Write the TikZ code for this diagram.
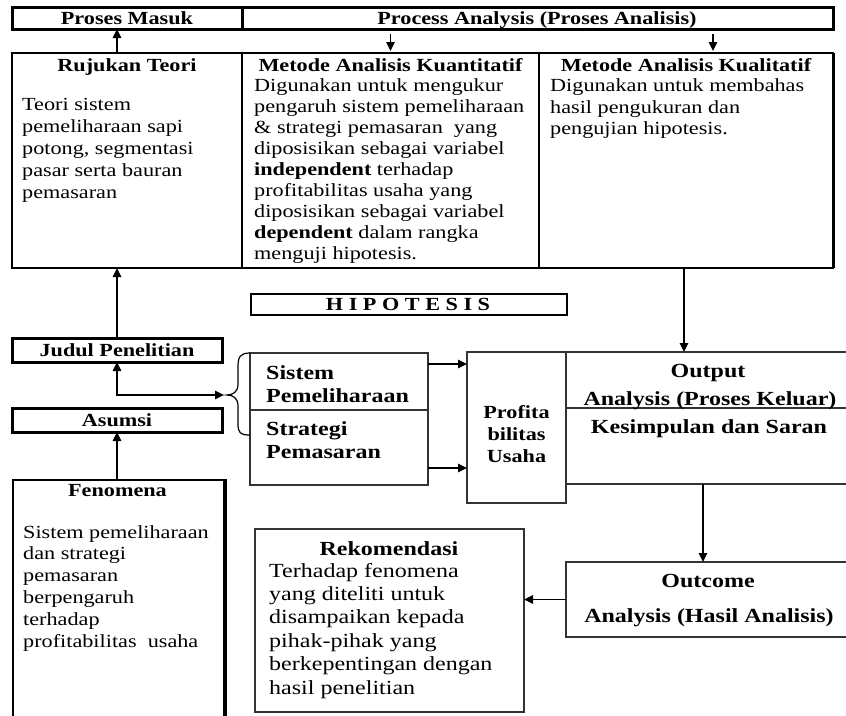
\documentclass[tikz,border=0pt]{standalone}
\usepackage{fontspec}
\setmainfont{Liberation Serif}[FakeStretch=1.2]
\usetikzlibrary{arrows.meta,calc}
\begin{document}
\begin{tikzpicture}[x=1pt,y=-1pt,
  box/.style={draw, inner sep=0pt, outer sep=0pt, anchor=north west, line width=1.7pt},
  thinbox/.style={draw=black!80, inner sep=0pt, outer sep=0pt, anchor=north west, line width=1.3pt},
  thickbox/.style={draw, inner sep=0pt, outer sep=0pt, anchor=north west, line width=3pt},
  txt/.style={inner sep=0pt, align=left, anchor=north west},
  fa/.style={font=\fontsize{18.5}{21.5}\selectfont},
  fb/.style={font=\fontsize{18.5}{21.5}\selectfont\bfseries},
  fc/.style={font=\fontsize{20}{23}\selectfont\bfseries},
  ttl/.style={inner sep=0pt, anchor=base},
  arr/.style={-{Triangle[length=9pt,width=8.5pt]}, line width=1.4pt},
  darr/.style={{Triangle[length=9pt,width=8.5pt]}-{Triangle[length=9pt,width=8.5pt]}, line width=1.4pt},
]
\clip (0,0) rectangle (846,715);
\fill[white] (0,0) rectangle (846,715);

% header bar
\node[thickbox, minimum width=230, minimum height=22] (hdrL) at (12,7) {};
\node[thickbox, minimum width=591, minimum height=22] (hdrR) at (242,7) {};
\node[ttl, fb] (tPM) at (127,24) {Proses Masuk};
\node[ttl, fb] (tPA) at (537,24) {Process Analysis (Proses Analisis)};

% top boxes
\node[box, minimum width=230, minimum height=215] (rujuk) at (12,53) {};
\node[box, minimum width=297, minimum height=215] (kuan) at (242,53) {};
\node[box, minimum width=294, minimum height=215] (kual) at (539,53) {};
\draw[line width=3pt] (kual.north east) -- (kual.south east);

\node[ttl, fb] (tRT) at (127,71.5) {Rujukan Teori};
\node[txt, font=\fontsize{18.5}{22}\selectfont] (bRT) at (22,94.6)
  {\strut Teori sistem\\pemeliharaan sapi\\potong, segmentasi\\pasar serta bauran\\pemasaran};

\node[ttl, fb] (tKN) at (390.5,71.5) {Metode Analisis Kuantitatif};
\node[txt, font=\fontsize{18.5}{21}\selectfont] (bKN) at (254,77)
  {\strut Digunakan untuk mengukur\\pengaruh sistem pemeliharaan\\\& strategi pemasaran\ \ yang\\diposisikan sebagai variabel\\\textbf{independent} terhadap\\profitabilitas usaha yang\\diposisikan sebagai variabel\\\textbf{dependent} dalam rangka\\menguji hipotesis.};

\node[ttl, fb] (tKL) at (686,71.5) {Metode Analisis Kualitatif};
\node[txt, font=\fontsize{18.5}{21.3}\selectfont] (bKL) at (550,76.8)
  {\strut Digunakan untuk membahas\\hasil pengukuran dan\\pengujian hipotesis.};

% header arrows
\draw[arr] (rujuk.north -| 117,0) -- (hdrL.south -| 117,0);
\draw[arr, shorten <=5pt, shorten >=2pt] (hdrR.south -| kuan.north) -- (kuan.north);
\draw[arr, shorten <=5pt, shorten >=2pt] ([xshift=27pt]kual.north |- hdrR.south) -- ([xshift=27pt]kual.north);

% HIPOTESIS
\node[draw, inner sep=0pt, anchor=north west, line width=2.4pt, minimum width=316, minimum height=21] (hip) at (250,293) {};
\node[ttl, fb] (tHip) at (408,310) {H I P O T E S I S};

% left column
\node[thickbox, minimum width=210, minimum height=24] (jud) at (12,338) {};
\node[ttl, fb] (tJud) at (117,356) {Judul Penelitian};
\node[thickbox, minimum width=210, minimum height=24] (asu) at (12,408) {};
\node[ttl, fb] (tAsu) at (117,426) {Asumsi};
\node[draw, inner sep=0pt, anchor=north west, line width=2.2pt, minimum width=211, minimum height=260] (fen) at (12,479) {};
\draw[line width=3.2pt] (fen.north east) -- (fen.south east);
\node[ttl, fb] (tFen) at (117.5,496) {Fenomena};
\node[txt, font=\fontsize{18.5}{21.8}\selectfont] (bFen) at (23,522.7)
  {\strut Sistem pemeliharaan\\dan strategi\\pemasaran\\berpengaruh\\terhadap\\profitabilitas\ \ usaha};

\draw[arr] (jud.north) -- (jud.north |- rujuk.south);
\draw[arr] (asu.south |- fen.north) -- (asu.south);
\coordinate (bt) at (224,395);
\draw[darr] (jud.south) |- (bt);

% Sistem / Strategi
\node[thinbox, minimum width=178, minimum height=57] (sis) at (250,353) {};
\node[thinbox, minimum width=178, minimum height=75] (str) at (250,410) {};
\node[txt, font=\fontsize{20}{23}\selectfont\bfseries] (tSis) at (266,362.9) {\strut Sistem\\Pemeliharaan};
\node[txt, font=\fontsize{20}{23.5}\selectfont\bfseries] (tStr) at (266,418.6) {\strut Strategi\\Pemasaran};
\draw[line width=1.2pt] (sis.north west) .. controls (240,353) and (238,357) .. (238,367) -- (238,384)
  .. controls (238,392) and (233,395) .. (227,395)
  .. controls (233,395) and (238,398) .. (238,406) -- (238,423)
  .. controls (238,433) and (240,435) .. (250,435);

% Profitabilitas
\node[thinbox, minimum width=99, minimum height=151] (prof) at (467,352) {};
\node[txt, anchor=north, align=center, font=\fontsize{18.5}{22}\selectfont\bfseries] (tProf) at (516.5,402.6) {\strut Profita\\bilitas\\Usaha};
\draw[arr] ([yshift=17.5pt]sis.east) -- ([yshift=17.5pt]sis.east -| prof.west);
\draw[arr] ([yshift=-20.5pt]str.east) -- ([yshift=-20.5pt]str.east -| prof.west);

% Output
\node[thinbox, minimum width=290, minimum height=56] (out1) at (566,352) {};
\node[thinbox, minimum width=290, minimum height=76] (out2) at (566,408) {};
\node[ttl, fc] (tOut) at (708,377) {Output};
\node[ttl, fc] (tOutA) at (710,405) {Analysis (Proses Keluar)};
\node[ttl, fc] (tKes) at (709,433) {Kesimpulan dan Saran};
\draw[arr] (kual.south -| 684,0) -- (out1.north -| 684,0);

% Outcome
\node[thinbox, minimum width=290, minimum height=75] (outc) at (566,562) {};
\node[ttl, fc] (tOc) at (708,587) {Outcome};
\node[ttl, fc] (tOcA) at (709,622) {Analysis (Hasil Analisis)};
\draw[arr] ([xshift=-8pt]out2.south) -- ([xshift=-8pt]out2.south |- outc.north);

% Rekomendasi
\node[thinbox, minimum width=269, minimum height=183] (rek) at (255,529) {};
\node[ttl, fc] (tRek) at (389,555) {Rekomendasi};
\node[txt, font=\fontsize{20}{23.4}\selectfont] (bRek) at (269,560.6)
  {\strut Terhadap fenomena\\yang diteliti untuk\\disampaikan kepada\\pihak-pihak yang\\berkepentingan dengan\\hasil penelitian};
\draw[arr] (outc.west) -- (outc.west -| rek.east);
\end{tikzpicture}
\end{document}
